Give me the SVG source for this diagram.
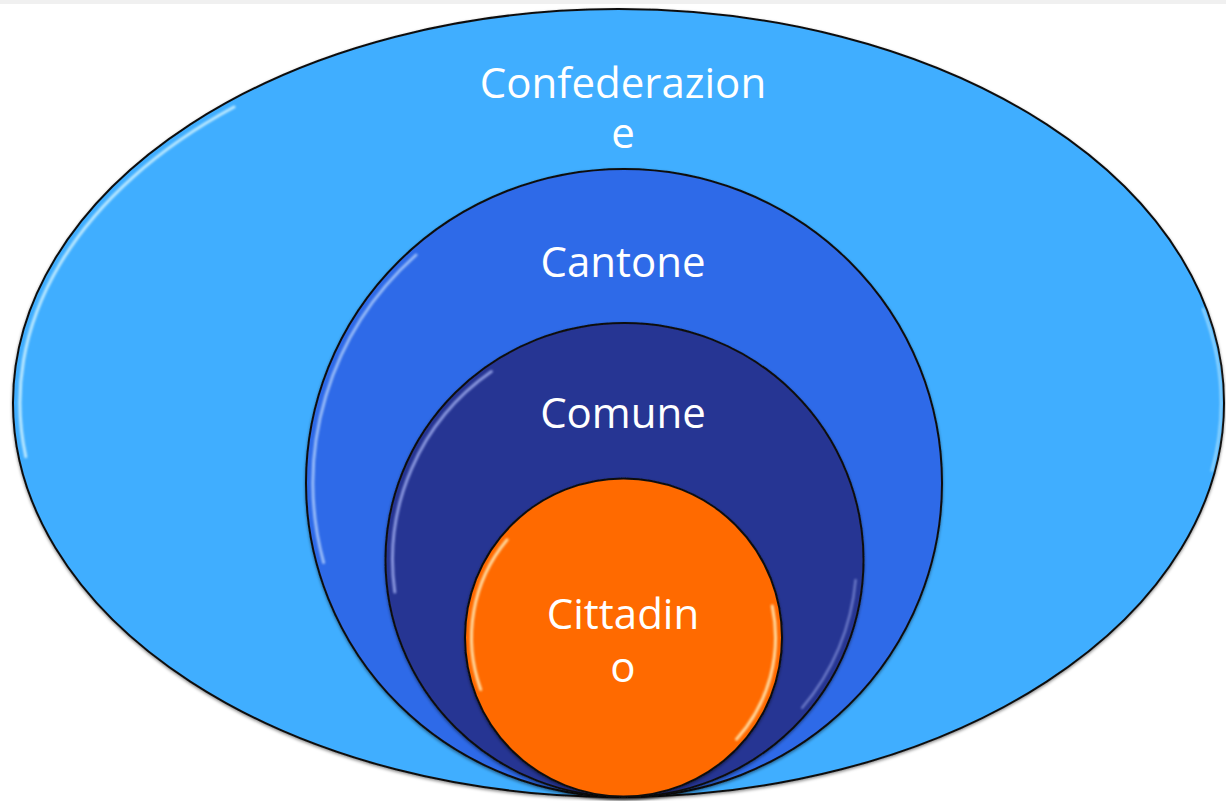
<svg xmlns="http://www.w3.org/2000/svg" width="1226" height="801" viewBox="0 0 1226 801">
<defs>
<style>
.shape{stroke:#111;stroke-width:2;filter:url(#sh)}
.lbl{font-family:"Open Sans","Liberation Sans",sans-serif;font-size:42px;fill:#fff;text-anchor:middle}
.hl{fill:none;stroke-linecap:round;filter:url(#bl)}
</style>
<filter id="sh" x="-5%" y="-5%" width="110%" height="110%">
<feDropShadow dx="0" dy="1.5" stdDeviation="1.5" flood-color="#000" flood-opacity="0.45"/>
</filter>
<filter id="bl" x="-10%" y="-10%" width="120%" height="120%">
<feGaussianBlur stdDeviation="1"/>
</filter>
</defs>
<rect x="0" y="0" width="1226" height="801" fill="#ffffff"/>
<rect x="0" y="0" width="1226" height="4" fill="#f0f0f0"/>

<g id="confederazione">
<ellipse class="shape" cx="618.5" cy="403" rx="605.5" ry="394" fill="#41aeff"/>
<path class="hl" d="M 25.8 456.7 A 599 386 0 0 1 234 107" stroke="#d2f4ff" stroke-width="3" opacity="0.85"/>
<path class="hl" d="M 1203 309 A 602 389 0 0 1 1211.9 470.5" stroke="#c9f2ff" stroke-width="2.5" opacity="0.6"/>
<text class="lbl" x="623" y="98">Confederazion</text>
<text class="lbl" x="623" y="148">e</text>
</g>

<g id="cantone">
<ellipse class="shape" cx="624" cy="483" rx="318" ry="314" fill="#2f6ae8"/>
<path class="hl" d="M 323.6 562.5 A 311 307 0 0 1 416 255" stroke="#bcd8ff" stroke-width="3" opacity="0.75"/>
<text class="lbl" x="623" y="277">Cantone</text>
</g>

<g id="comune">
<ellipse class="shape" cx="624.5" cy="560" rx="239" ry="237" fill="#283593"/>
<path class="hl" d="M 394.8 592 A 232 230 0 0 1 491.4 371.6" stroke="#a3b0f2" stroke-width="3" opacity="0.8"/>
<path class="hl" d="M 855.6 580 A 232 230 0 0 1 802.2 707.8" stroke="#a3b0f2" stroke-width="2.5" opacity="0.55"/>
<text class="lbl" x="623" y="428">Comune</text>
</g>

<g id="cittadino">
<ellipse class="shape" cx="623.5" cy="637.5" rx="158.5" ry="159" fill="#ff6a00"/>
<path class="hl" d="M 480.7 689.5 A 152 152 0 0 1 507.1 539.8" stroke="#ffe6b0" stroke-width="3" opacity="0.9"/>
<path class="hl" d="M 772.2 605.9 A 152 152 0 0 1 736.5 739.2" stroke="#ffe6b0" stroke-width="3" opacity="0.9"/>
<text class="lbl" x="623" y="629">Cittadin</text>
<text class="lbl" x="623" y="682">o</text>
</g>

<g id="connectors"></g>
</svg>
